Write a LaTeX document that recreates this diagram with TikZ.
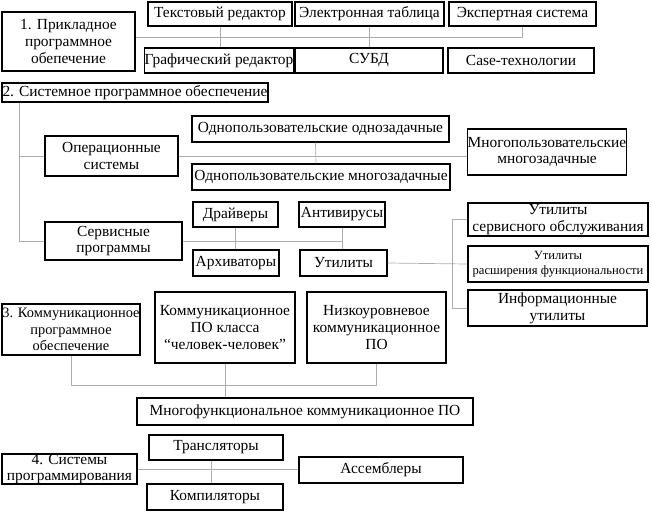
\documentclass[tikz,border=0pt]{standalone}
\usepackage{fontspec}
\setmainfont{Liberation Serif}
\begin{document}
\begin{tikzpicture}[x=1pt, y=-1pt,
    box/.style={draw=black, line width=1.4pt, inner sep=0pt, align=center,
      font=\rmfamily\fontsize{15.4}{16.8}\selectfont},
    link/.style={draw=gray!65, line width=0.7pt}]
  \useasboundingbox (0,0) rectangle (652,511);
  % 1
  \node[box, minimum width=133, minimum height=59] (app) at (68.5,41.5) {1. Прикладное\\программное\\обепечение};
  \node[box, minimum width=144, minimum height=24] (ted) at (220,14) {Текстовый редактор};
  \node[box, minimum width=149, minimum height=24] (etab) at (369.5,14) {Электронная таблица};
  \node[box, minimum width=147, minimum height=24] (exp) at (522.5,14) {Экспертная система};
  \node[box, minimum width=146, minimum height=25] (gred) at (219,60.5) {Графический редактор};
  \node[box, minimum width=148, minimum height=25] (subd) at (369,60.5) {СУБД};
  \node[box, minimum width=146, minimum height=25] (case) at (521,60.5) {Case-технологии};
  \draw[link] ([yshift=4.5pt]app.east) -- ([yshift=4.5pt]app.east -| exp.south) -- (exp.south);
  \draw[link] (ted.south) -- (ted.south |- gred.north);
  \draw[link] (etab.south) -- (etab.south |- subd.north);
  % 2
  \node[box, minimum width=266, minimum height=19] (sys) at (135,92.5) {2. Системное программное обеспечение};
  \node[box, minimum width=133, minimum height=40] (os) at (111.5,156) {Операционные\\системы};
  \node[box, minimum width=257, minimum height=26] (oo) at (320.5,129) {Однопользовательские однозадачные};
  \node[box, minimum width=258, minimum height=26] (om) at (321,177) {Однопользовательские многозадачные};
  \node[box, minimum width=158, minimum height=46] (mm) at (547,152) {Многопользовательские\\многозадачные};
  \node[box, minimum width=137, minimum height=38] (serv) at (113.5,241) {Сервисные\\программы};
  \node[box, minimum width=85, minimum height=25] (drv) at (235.5,214.5) {Драйверы};
  \node[box, minimum width=86, minimum height=25] (av) at (342,214.5) {Антивирусы};
  \node[box, minimum width=86, minimum height=26] (arc) at (236,263) {Архиваторы};
  \node[box, minimum width=87, minimum height=26] (util) at (343.5,263) {Утилиты};
  \node[box, minimum width=180, minimum height=33] (us) at (558,219.5) {Утилиты\\сервисного обслуживания};
  \node[box, minimum width=180, minimum height=36, font=\rmfamily\fontsize{12.6}{15}\selectfont] (ur) at (558,264) {Утилиты\\расширения функциональности};
  \node[box, minimum width=179, minimum height=36] (ui) at (557.5,308) {Информационные\\утилиты};
  \draw[link] ([xshift=18pt]sys.south west) |- (serv.west);
  \draw[link] ([xshift=18pt]sys.south west |- os.west) -- (os.west);
  \draw[link] (os.east) -- (os.east -| mm.west);
  \draw[link] ([xshift=-5pt]oo.south) -- ([xshift=-5pt]om.north);
  \draw[link] (serv.east) -- (serv.east -| av.south);
  \draw[link] (drv.south) -- (drv.south |- arc.north);
  \draw[link] (av.south) -- (av.south |- util.north);
  \draw[link] (util.east) -- (ur.west);
  \draw[link] (us.west) -| ([xshift=-15pt]ur.west) |- (ui.west);
  % 3
  \node[box, minimum width=138, minimum height=51, font=\rmfamily\fontsize{14.4}{16.5}\selectfont] (com) at (71,329.5) {3. Коммуникационное\\программное\\обеспечение};
  \node[box, minimum width=140, minimum height=71] (chel) at (225,327.5) {Коммуникационное\\ПО класса\\“человек-человек”};
  \node[box, minimum width=139, minimum height=71] (low) at (376.5,327.5) {Низкоуровневое\\коммуникационное\\ПО};
  \node[box, minimum width=336, minimum height=27] (multi) at (305,411.5) {Многофункциональное коммуникационное ПО};
  \draw[link] (com.south) -- ++(0,30) -| (low.south);
  \draw[link] (chel.south) -- (chel.south |- multi.north);
  % 4
  \node[box, minimum width=135, minimum height=26] (prog) at (69.5,469) {4. Системы\\программирования};
  \node[box, minimum width=134, minimum height=25] (tr) at (216,447.5) {Трансляторы};
  \node[box, minimum width=136, minimum height=26] (cmp) at (215,497) {Компиляторы};
  \node[box, minimum width=164, minimum height=26] (asm) at (381,470) {Ассемблеры};
  \draw[link] (prog.east) -- (prog.east -| asm.west);
  \draw[link] ([xshift=-5pt]tr.south) -- ([xshift=-5pt]tr.south |- cmp.north);
\end{tikzpicture}
\end{document}
